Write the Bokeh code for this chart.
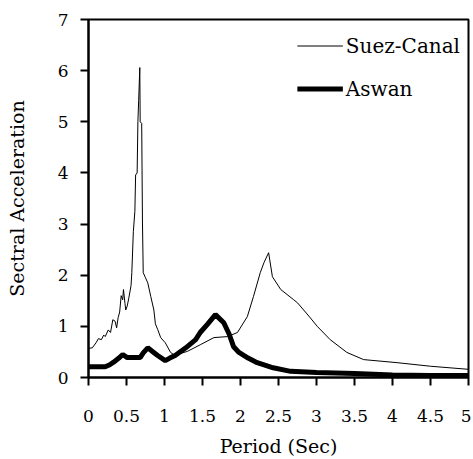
from bokeh.plotting import figure
from bokeh.models import Range1d, FixedTicker, Legend, LegendItem
from bokeh.embed import file_html
from bokeh.resources import INLINE

suez_period = [0.00, 0.05, 0.10, 0.13, 0.17, 0.20, 0.22, 0.26, 0.29, 0.32, 0.35, 0.37, 0.39, 0.41,
               0.43, 0.45, 0.46, 0.48, 0.49, 0.51, 0.53, 0.56, 0.57, 0.59, 0.61, 0.62, 0.64, 0.65,
               0.66, 0.675, 0.68, 0.70, 0.71, 0.72, 0.75, 0.78, 0.82, 0.86, 0.88, 0.91, 0.95, 1.01,
               1.08, 1.12, 1.21, 1.30, 1.47, 1.65, 1.83, 1.96, 2.09, 2.17, 2.26, 2.31, 2.37, 2.42,
               2.53, 2.70, 2.75, 2.90, 3.01, 3.18, 3.40, 3.62, 4.06, 4.50, 5.00]
suez_accel = [0.57, 0.58, 0.68, 0.76, 0.74, 0.83, 0.80, 0.93, 0.88, 1.13, 1.10, 0.97, 1.17, 1.28,
              1.60, 1.52, 1.72, 1.45, 1.32, 1.40, 1.55, 1.80, 2.05, 2.85, 3.25, 3.96, 4.00, 5.00,
              5.42, 6.06, 5.00, 4.97, 3.04, 2.05, 1.95, 1.85, 1.58, 1.32, 1.05, 0.94, 0.78, 0.68,
              0.49, 0.45, 0.47, 0.51, 0.64, 0.78, 0.80, 0.88, 1.19, 1.58, 2.05, 2.25, 2.44, 1.97,
              1.72, 1.52, 1.46, 1.20, 1.00, 0.74, 0.49, 0.35, 0.29, 0.22, 0.16]

aswan_period = [0.00, 0.10, 0.22, 0.28, 0.33, 0.40, 0.45, 0.51, 0.60, 0.68, 0.72, 0.78, 0.85, 0.91,
                1.01, 1.07, 1.14, 1.28, 1.41, 1.47, 1.57, 1.67, 1.78, 1.85, 1.91, 1.98, 2.10, 2.22,
                2.43, 2.66, 3.00, 3.50, 4.00, 4.50, 5.00]
aswan_accel = [0.21, 0.21, 0.21, 0.25, 0.30, 0.38, 0.45, 0.39, 0.39, 0.39, 0.48, 0.58, 0.50, 0.43,
               0.33, 0.38, 0.43, 0.58, 0.74, 0.88, 1.05, 1.23, 1.07, 0.85, 0.60, 0.49, 0.38, 0.29,
               0.19, 0.12, 0.10, 0.08, 0.05, 0.04, 0.04]

x_ticks = [0, 0.5, 1, 1.5, 2, 2.5, 3, 3.5, 4, 4.5, 5]
x_tick_labels = ["0", "0.5", "1", "1.5", "2", "2.5", "3", "3.5", "4", "4.5", "5"]
y_ticks = [0, 1, 2, 3, 4, 5, 6, 7]

FONT = "DejaVu Serif"

p = figure(width=471, height=459, output_backend="svg", toolbar_location=None,
           x_range=Range1d(0, 5), y_range=Range1d(0, 7),
           min_border_left=88, min_border_right=3, min_border_top=19, min_border_bottom=81)
p.background_fill_color = "white"
p.border_fill_color = "white"
p.outline_line_color = "black"
p.outline_line_width = 2
p.grid.visible = False

r1 = p.line(suez_period, suez_accel, line_color="black", line_width=1)
r2 = p.line(aswan_period, aswan_accel, line_color="black", line_width=5)

for ax in (p.xaxis[0], p.yaxis[0]):
    ax.axis_line_color = "black"
    ax.axis_line_width = 2
    ax.major_tick_line_color = "black"
    ax.major_tick_line_width = 2
    ax.major_tick_out = 8
    ax.major_tick_in = 0
    ax.minor_tick_line_color = None
    ax.major_label_text_font = FONT
    ax.major_label_text_font_size = "17px"
    ax.major_label_text_color = "black"
    ax.axis_label_text_font = FONT
    ax.axis_label_text_font_size = "19px"
    ax.axis_label_text_font_style = "normal"
    ax.axis_label_text_color = "black"

p.xaxis.ticker = FixedTicker(ticks=x_ticks)
p.xaxis.major_label_overrides = {t: l for t, l in zip(x_ticks, x_tick_labels)}
p.xaxis.major_label_standoff = 24
p.xaxis.axis_label = "Period (Sec)"
p.xaxis.axis_label_standoff = 10

p.yaxis.ticker = FixedTicker(ticks=y_ticks)
p.yaxis.major_label_standoff = 12
p.yaxis.axis_label = "Sectral Acceleration"
p.yaxis.axis_label_standoff = 27

legend = Legend(items=[LegendItem(label="Suez-Canal", renderers=[r1]),
                       LegendItem(label="Aswan", renderers=[r2])],
                location="top_right")
legend.border_line_color = None
legend.background_fill_alpha = 0
legend.margin = 8
legend.padding = 3
legend.glyph_width = 46
legend.glyph_height = 37
legend.label_height = 37
legend.spacing = 6
legend.label_standoff = 3
legend.label_text_font = FONT
legend.label_text_font_size = "20px"
legend.label_text_color = "black"
p.add_layout(legend)

open("out.html", "w").write(file_html(p, INLINE))
